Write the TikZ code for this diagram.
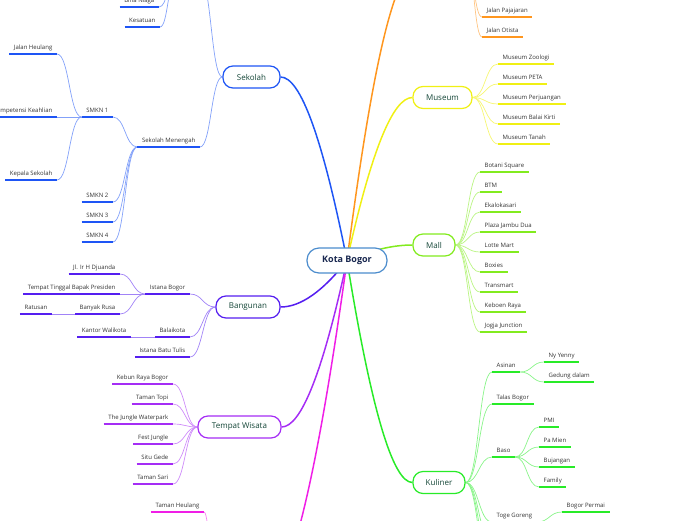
\documentclass[tikz,border=0pt]{standalone}
\usepackage{fontspec}
\setmainfont{Open Sans}
\usetikzlibrary{calc,backgrounds}

\definecolor{biru}{RGB}{30,85,245}
\definecolor{oranye}{RGB}{255,150,30}
\definecolor{kuning}{RGB}{240,240,20}
\definecolor{limau}{RGB}{130,235,30}
\definecolor{hijau}{RGB}{40,235,40}
\definecolor{merahmuda}{RGB}{240,30,230}
\definecolor{ungu}{RGB}{165,45,245}
\definecolor{nila}{RGB}{85,30,240}
\definecolor{pusat}{RGB}{75,140,205}
\definecolor{tekspusat}{RGB}{25,40,80}
\definecolor{tekstopik}{RGB}{20,70,55}
\definecolor{teksdaun}{RGB}{50,50,50}

\begin{document}
\begin{tikzpicture}[x=1pt,y=-1pt,
  kota/.style={draw=pusat,line width=1.2pt,fill=white,rounded corners=12pt,minimum width=80pt,minimum height=25pt,font=\fontsize{9}{11}\selectfont\bfseries,text=tekspusat},
  topik/.style={draw=#1,line width=1.2pt,fill=white,rounded corners=10pt,minimum height=22pt,font=\fontsize{8}{10}\selectfont,text=tekstopik},
  daun/.style={font=\fontsize{6}{7}\selectfont,text=teksdaun,inner xsep=4.5pt,inner ysep=2.5pt,text height=5pt,text depth=1.5pt,
    append after command={(\tikzlastnode.south west) edge[draw=#1,line width=1.4pt] (\tikzlastnode.south east)}},
  kiri/.style={daun=#1,anchor=south east},
  kanan/.style={daun=#1,anchor=south west},
  batang/.style={line width=1.5pt,to path={let \p1=(\tikztostart),\p2=(\tikztotarget),\p3=({\x1+0.55*(\x2-\x1)},\y2) in
    .. controls ($(\p1)!.667!(\p3)$) and ($(\p2)!.667!(\p3)$) .. (\tikztotarget)}},
  ranting/.style={line width=0.7pt,to path={let \p1=(\tikztostart),\p2=(\tikztotarget) in
    .. controls ({(\x1+\x2)/2},\y1) and ({(\x1+\x2)/2},\y2) .. (\tikztotarget)}}]
  \useasboundingbox (0,0) rectangle (696,520);

  \node[kota] (kota) at (347,260.5) {Kota Bogor};

  \node[topik=biru,minimum width=57pt] (sekolah) at (251.5,77) {Sekolah};
  \coordinate (sekatasL) at (176,-22);
  \coordinate (sekatasR) at (200,-22);
  \node[kiri=biru] (binaniaga) at (159,7) {Bina Niaga};
  \node[kiri=biru] (kesatuan) at (160,27) {Kesatuan};
  \node[kiri=biru] (sekmenengah) at (200,147) {Sekolah Menengah};
  \node[kiri=biru] (smkn1) at (113,117) {SMKN 1};
  \node[kiri=biru] (smkn2) at (113,202) {SMKN 2};
  \node[kiri=biru] (smkn3) at (113,222) {SMKN 3};
  \node[kiri=biru] (smkn4) at (113,242) {SMKN 4};
  \node[kiri=biru] (heulang) at (57,54) {Jalan Heulang};
  \node[kiri=biru] (kompetensi) at (57,117) {Kompetensi Keahlian};
  \node[kiri=biru] (kepsek) at (57,180) {Kepala Sekolah};

  \node[topik=nila,minimum width=64pt] (bangunan) at (248,307) {Bangunan};
  \node[kiri=nila] (istanabogor) at (190,294) {Istana Bogor};
  \node[kiri=nila] (djuanda) at (120,274) {Jl. Ir H Djuanda};
  \node[kiri=nila] (tempattinggal) at (120,294) {Tempat Tinggal Bapak Presiden};
  \node[kiri=nila] (banyakrusa) at (120,314) {Banyak Rusa};
  \node[kiri=nila] (ratusan) at (52,314) {Ratusan};
  \node[kiri=nila] (balaikota) at (190,337) {Balaikota};
  \node[kiri=nila] (walikota) at (131,337) {Kantor Walikota};
  \node[kiri=nila] (batutulis) at (190,357) {Istana Batu Tulis};

  \node[topik=ungu,minimum width=83pt] (wisata) at (239.5,427) {Tempat Wisata};
  \node[kiri=ungu] (kebunraya) at (173,384) {Kebun Raya Bogor};
  \node[kiri=ungu] (tamantopi) at (173,404) {Taman Topi};
  \node[kiri=ungu] (jungle) at (173,424) {The Jungle Waterpark};
  \node[kiri=ungu] (festjungle) at (173,444) {Fest Jungle};
  \node[kiri=ungu] (situgede) at (173,464) {Situ Gede};
  \node[kiri=ungu] (tamansari) at (173,484) {Taman Sari};

  \coordinate (pinkW) at (216,600);
  \coordinate (pinkE) at (262,600);
  \node[kiri=merahmuda] (tamanheulang) at (204,512) {Taman Heulang};

  \coordinate (oranyeW) at (415,-30);
  \coordinate (oranyeE) at (467,-30);
  \node[kanan=oranye] (pajajaran) at (482,17) {Jalan Pajajaran};
  \node[kanan=oranye] (otista) at (482,37) {Jalan Otista};

  \node[topik=kuning,minimum width=59pt] (museum) at (442.5,97.5) {Museum};
  \node[kanan=kuning] (zoologi) at (498,64) {Museum Zoologi};
  \node[kanan=kuning] (peta) at (498,84) {Museum PETA};
  \node[kanan=kuning] (perjuangan) at (498,104) {Museum Perjuangan};
  \node[kanan=kuning] (balaikirti) at (498,124) {Museum Balai Kirti};
  \node[kanan=kuning] (tanah) at (498,144) {Museum Tanah};

  \node[topik=limau,minimum width=42pt] (mall) at (434,245) {Mall};
  \node[kanan=limau] (botani) at (480,172) {Botani Square};
  \node[kanan=limau] (btm) at (480,192) {BTM};
  \node[kanan=limau] (ekalokasari) at (480,212) {Ekalokasari};
  \node[kanan=limau] (jambudua) at (480,232) {Plaza Jambu Dua};
  \node[kanan=limau] (lotte) at (480,252) {Lotte Mart};
  \node[kanan=limau] (boxies) at (480,272) {Boxies};
  \node[kanan=limau] (transmart) at (480,292) {Transmart};
  \node[kanan=limau] (keboen) at (480,312) {Keboen Raya};
  \node[kanan=limau] (jogja) at (480,332) {Jogja Junction};

  \node[topik=hijau,minimum width=52pt] (kuliner) at (439,482.5) {Kuliner};
  \node[kanan=hijau] (asinan) at (492,372) {Asinan};
  \node[kanan=hijau] (nyyenny) at (544,362) {Ny Yenny};
  \node[kanan=hijau] (gedung) at (544,382) {Gedung dalam};
  \node[kanan=hijau] (talas) at (492,404) {Talas Bogor};
  \node[kanan=hijau] (baso) at (492,457) {Baso};
  \node[kanan=hijau] (pmi) at (539,427) {PMI};
  \node[kanan=hijau] (pamien) at (539,447) {Pa Mien};
  \node[kanan=hijau] (bujangan) at (539,467) {Bujangan};
  \node[kanan=hijau] (family) at (539,487) {Family};
  \node[kanan=hijau] (toge) at (492,522) {Toge Goreng};
  \node[kanan=hijau] (bogorpermai) at (562,512) {Bogor Permai};
  \coordinate (kulA) at (492,542);
  \coordinate (kulB) at (492,562);
  \coordinate (kulC) at (492,582);

  \begin{scope}[on background layer]
    \draw[batang,biru] (kota.center) to (sekolah.east);
    \draw[batang,nila] (kota.center) to (bangunan.east);
    \draw[batang,ungu] (kota.center) to (wisata.east);
    \draw[batang,merahmuda] (kota.center) to (pinkE);
    \draw[batang,oranye] (kota.center) to (oranyeW);
    \draw[batang,kuning] (kota.center) to (museum.west);
    \draw[batang,limau] (kota.center) to (mall.west);
    \draw[batang,hijau] (kota.center) to (kuliner.west);

    \draw[ranting,biru!55] (sekolah.west) to (sekatasR);
    \draw[ranting,biru!55] (sekolah.west) to (sekmenengah.south east);
    \draw[ranting,biru!55] (sekatasL) to (binaniaga.south east);
    \draw[ranting,biru!55] (sekatasL) to (kesatuan.south east);
    \draw[ranting,biru!55] (sekmenengah.south west) to (smkn1.south east);
    \draw[ranting,biru!55] (sekmenengah.south west) to (smkn2.south east);
    \draw[ranting,biru!55] (sekmenengah.south west) to (smkn3.south east);
    \draw[ranting,biru!55] (sekmenengah.south west) to (smkn4.south east);
    \draw[ranting,biru!55] (smkn1.south west) to (heulang.south east);
    \draw[ranting,biru!55] (smkn1.south west) to (kompetensi.south east);
    \draw[ranting,biru!55] (smkn1.south west) to (kepsek.south east);

    \draw[ranting,nila!55] (bangunan.west) to (istanabogor.south east);
    \draw[ranting,nila!55] (bangunan.west) to (balaikota.south east);
    \draw[ranting,nila!55] (bangunan.west) to (batutulis.south east);
    \draw[ranting,nila!55] (istanabogor.south west) to (djuanda.south east);
    \draw[ranting,nila!55] (istanabogor.south west) to (tempattinggal.south east);
    \draw[ranting,nila!55] (istanabogor.south west) to (banyakrusa.south east);
    \draw[ranting,nila!55] (banyakrusa.south west) to (ratusan.south east);
    \draw[ranting,nila!55] (balaikota.south west) to (walikota.south east);

    \draw[ranting,ungu!55] (wisata.west) to (kebunraya.south east);
    \draw[ranting,ungu!55] (wisata.west) to (tamantopi.south east);
    \draw[ranting,ungu!55] (wisata.west) to (jungle.south east);
    \draw[ranting,ungu!55] (wisata.west) to (festjungle.south east);
    \draw[ranting,ungu!55] (wisata.west) to (situgede.south east);
    \draw[ranting,ungu!55] (wisata.west) to (tamansari.south east);

    \draw[ranting,merahmuda!55] (pinkW) to (tamanheulang.south east);

    \draw[ranting,oranye!55] (oranyeE) to (pajajaran.south west);
    \draw[ranting,oranye!55] (oranyeE) to (otista.south west);

    \draw[ranting,kuning!60] (museum.east) to (zoologi.south west);
    \draw[ranting,kuning!60] (museum.east) to (peta.south west);
    \draw[ranting,kuning!60] (museum.east) to (perjuangan.south west);
    \draw[ranting,kuning!60] (museum.east) to (balaikirti.south west);
    \draw[ranting,kuning!60] (museum.east) to (tanah.south west);

    \draw[ranting,limau!55] (mall.east) to (botani.south west);
    \draw[ranting,limau!55] (mall.east) to (btm.south west);
    \draw[ranting,limau!55] (mall.east) to (ekalokasari.south west);
    \draw[ranting,limau!55] (mall.east) to (jambudua.south west);
    \draw[ranting,limau!55] (mall.east) to (lotte.south west);
    \draw[ranting,limau!55] (mall.east) to (boxies.south west);
    \draw[ranting,limau!55] (mall.east) to (transmart.south west);
    \draw[ranting,limau!55] (mall.east) to (keboen.south west);
    \draw[ranting,limau!55] (mall.east) to (jogja.south west);

    \draw[ranting,hijau!55] (kuliner.east) to (asinan.south west);
    \draw[ranting,hijau!55] (kuliner.east) to (talas.south west);
    \draw[ranting,hijau!55] (kuliner.east) to (baso.south west);
    \draw[ranting,hijau!55] (kuliner.east) to (toge.south west);
    \draw[ranting,hijau!55] (kuliner.east) to (kulA);
    \draw[ranting,hijau!55] (kuliner.east) to (kulB);
    \draw[ranting,hijau!55] (kuliner.east) to (kulC);
    \draw[ranting,hijau!55] (asinan.south east) to (nyyenny.south west);
    \draw[ranting,hijau!55] (asinan.south east) to (gedung.south west);
    \draw[ranting,hijau!55] (baso.south east) to (pmi.south west);
    \draw[ranting,hijau!55] (baso.south east) to (pamien.south west);
    \draw[ranting,hijau!55] (baso.south east) to (bujangan.south west);
    \draw[ranting,hijau!55] (baso.south east) to (family.south west);
    \draw[ranting,hijau!55] (toge.south east) to (bogorpermai.south west);
  \end{scope}
\end{tikzpicture}
\end{document}
